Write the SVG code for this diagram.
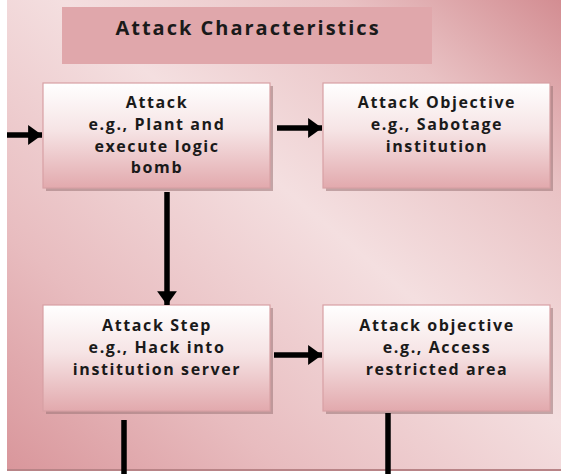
<svg xmlns="http://www.w3.org/2000/svg" width="561" height="474" viewBox="0 0 561 474">
<defs>
<linearGradient id="bg" x1="0" y1="1" x2="1" y2="0">
<stop offset="0" stop-color="#d9969b"/>
<stop offset="0.25" stop-color="#e8bcbf"/>
<stop offset="0.55" stop-color="#f4dfe0"/>
<stop offset="0.8" stop-color="#e9c2c4"/>
<stop offset="1" stop-color="#d38d92"/>
</linearGradient>
<linearGradient id="box" x1="0" y1="0" x2="0" y2="1">
<stop offset="0" stop-color="#ffffff"/>
<stop offset="0.45" stop-color="#f6e4e5"/>
<stop offset="1" stop-color="#e2a9ad"/>
</linearGradient>
<marker id="ah" viewBox="0 0 7 10" refX="7" refY="5" markerWidth="2.6" markerHeight="3.6" orient="auto" markerUnits="strokeWidth">
<path d="M0,0 L7,5 L0,10 z" fill="#000"/>
</marker>
</defs>
<style>
.node rect.b{fill:url(#box);stroke:#d7a0a4;stroke-width:1.2}
.node rect.s{fill:#9a7476;opacity:0.55}
text{font-family:"Open Sans","Liberation Sans",sans-serif;font-weight:bold;fill:#1a1a1a;text-anchor:middle}
.t{font-size:16px;letter-spacing:1.6px}
.c line{stroke:#000;stroke-width:5.5}
</style>
<rect x="7" y="0" width="554" height="471" fill="url(#bg)"/>
<rect x="7" y="469" width="554" height="2" fill="#b88487"/>
<g id="title">
<rect x="62" y="7" width="370" height="57" fill="#e0a7ab"/>
<text x="248" y="35" font-size="20" letter-spacing="2">Attack Characteristics</text>
</g>
<g id="attack" class="node">
<rect class="s" x="46" y="86" width="227" height="105"/>
<rect class="b" x="43" y="83" width="227" height="105"/>
<text class="t" x="157" y="108">Attack</text>
<text class="t" x="157" y="130">e.g., Plant and</text>
<text class="t" x="157" y="152">execute logic</text>
<text class="t" x="157" y="173">bomb</text>
</g>
<g id="objective1" class="node">
<rect class="s" x="326" y="86" width="227" height="105"/>
<rect class="b" x="323" y="83" width="227" height="105"/>
<text class="t" x="437" y="108">Attack Objective</text>
<text class="t" x="437" y="130">e.g., Sabotage</text>
<text class="t" x="437" y="152">institution</text>
</g>
<g id="step" class="node">
<rect class="s" x="46" y="308" width="227" height="106"/>
<rect class="b" x="43" y="305" width="227" height="106"/>
<text class="t" x="157" y="331">Attack Step</text>
<text class="t" x="157" y="353">e.g., Hack into</text>
<text class="t" x="157" y="375">institution server</text>
</g>
<g id="objective2" class="node">
<rect class="s" x="326" y="308" width="227" height="106"/>
<rect class="b" x="323" y="305" width="227" height="106"/>
<text class="t" x="437" y="331">Attack objective</text>
<text class="t" x="437" y="353">e.g., Access</text>
<text class="t" x="437" y="375">restricted area</text>
</g>
<g id="connectors" class="c">
<line x1="7" y1="135" x2="42" y2="135" marker-end="url(#ah)"/>
<line x1="277" y1="128" x2="322" y2="128" marker-end="url(#ah)"/>
<line x1="167" y1="192" x2="167" y2="305" marker-end="url(#ah)"/>
<line x1="274" y1="355" x2="322" y2="355" marker-end="url(#ah)"/>
<line x1="124" y1="420" x2="124" y2="474"/>
<line x1="388" y1="413" x2="388" y2="474"/>
</g>
</svg>
